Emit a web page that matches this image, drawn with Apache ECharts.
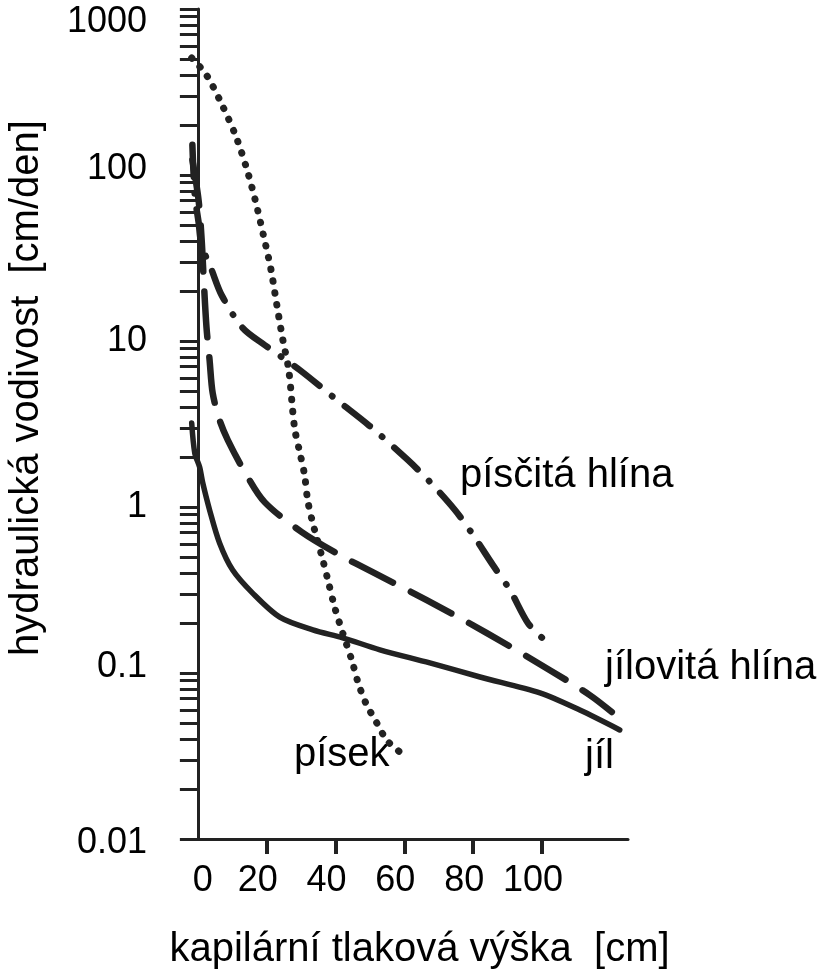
<!DOCTYPE html>
<html>
<head>
<meta charset="utf-8">
<script src="https://cdn.jsdelivr.net/npm/echarts@6/dist/echarts.min.js"></script>
<style>
  html, body { margin: 0; padding: 0; background: #fff; }
  #chart { width: 827px; height: 973px; }
</style>
</head>
<body>
<div id="chart"></div>
<script>
// tick values
const xTickValues = [20, 40, 60, 80, 100]
const xLabelValues = [0, 20, 40, 60, 80, 100]
const yDecades = [0.01, 0.1, 1, 10, 100, 1000]
const yMultipliers = [1, 2, 3, 4, 5, 6, 7, 8, 9]

// [kapilarni tlakova vyska cm, hydraulicka vodivost cm/den]
const pisek = [
  [-1.8, 507], [2.5, 400], [6.9, 268], [11.0, 172], [14.2, 109], [16.8, 68.8],
  [19.1, 42.9], [21.2, 27.2], [22.9, 16.7], [24.6, 10.4], [26.4, 6.69],
  [28.1, 2.99], [29.6, 2.14], [31.0, 1.56], [31.9, 1.10], [33.3, 0.813],
  [34.5, 0.659], [36.3, 0.480], [38.0, 0.348], [39.8, 0.247], [42.1, 0.174],
  [44.7, 0.120], [46.5, 0.0883], [48.8, 0.0659], [52.0, 0.050], [54.9, 0.0394],
  [58.7, 0.0334], [61.0, 0.0312]
]
const piscitaHlina = [
  [-1.6, 152], [-0.9, 75.8], [0.2, 52.1], [1.1, 37.9], [4.0, 26.8], [6.9, 18.9],
  [13.0, 12.0], [19.4, 9.46], [29.6, 6.69], [40.4, 4.41], [49.9, 3.08],
  [61.0, 1.92], [67.4, 1.42], [74.7, 0.96], [79.6, 0.697], [85.7, 0.448],
  [90.7, 0.316], [95.9, 0.200], [100.0, 0.163]
]
const jilovitaHlina = [
  [-1.6, 123], [0.2, 70.6], [1.1, 40.6], [1.7, 23.3], [2.5, 12.1], [3.4, 7.69],
  [4.3, 4.86], [6.3, 3.34], [8.7, 2.53], [13.6, 1.63], [19.4, 1.07],
  [30.2, 0.706], [41.2, 0.514], [50.8, 0.405], [66.5, 0.275], [84.0, 0.174],
  [102.3, 0.104], [113.9, 0.0736], [120.3, 0.0582]
]
const jil = [
  [-1.8, 3.21], [-0.9, 2.11], [0.5, 1.74], [1.4, 1.40], [3.4, 0.96], [6.3, 0.607],
  [10.1, 0.417], [15.9, 0.303], [23.8, 0.217], [33.4, 0.182], [42.1, 0.163],
  [52.9, 0.138], [67.4, 0.115], [82.0, 0.0946], [99.4, 0.0759], [111.0, 0.0598],
  [122.6, 0.0454]
]

const yTickValues = []
yDecades.slice(0, -1).forEach(d => yMultipliers.forEach(m => yTickValues.push(+(d * m).toPrecision(3))))
yTickValues.push(yDecades[yDecades.length - 1])

const ink = '#222'
const wordFont = '"Liberation Sans", Arial, sans-serif'

const chart = echarts.init(document.getElementById('chart'))

function curve(name, data, type, width) {
  return {
    name: name,
    type: 'line',
    data: data,
    symbol: 'none',
    smooth: 0.3,
    clip: false,
    lineStyle: { color: ink, width: width, type: type, cap: 'round', join: 'round' }
  }
}

chart.setOption({
  animation: false,
  backgroundColor: '#fff',
  grid: { left: 191, right: 199, top: 9, bottom: 134, containLabel: false, outerBoundsMode: 'none' },
  xAxis: {
    type: 'value',
    min: -2,
    max: 125,
    name: 'kapilární tlaková výška  [cm]',
    nameLocation: 'middle',
    nameGap: 91,
    nameTextStyle: { fontFamily: wordFont, fontSize: 40, color: '#000', padding: [0, 0, 0, 20] },
    axisLine: { lineStyle: { color: ink, width: 3 } },
    axisTick: { customValues: xTickValues, length: 15, inside: false, lineStyle: { color: ink, width: 4 } },
    axisLabel: {
      customValues: xLabelValues,
      margin: 24,
      fontFamily: wordFont,
      fontSize: 36,
      color: '#000',
      formatter: v => (v === 0 ? '{z|0}' : '{n|' + v + '}'),
      rich: {
        z: { fontFamily: wordFont, fontSize: 36, color: '#000', padding: [0, 0, 0, 10] },
        n: { fontFamily: wordFont, fontSize: 36, color: '#000', padding: [0, 18, 0, 0] }
      }
    },
    splitLine: { show: false }
  },
  yAxis: {
    type: 'log',
    logBase: 10,
    min: 0.01,
    max: 1000,
    name: 'hydraulická vodivost  [cm/den]',
    nameLocation: 'middle',
    nameGap: 144,
    nameTextStyle: { fontFamily: wordFont, fontSize: 40, color: '#000', padding: [0, 0, 0, 72] },
    axisLine: { lineStyle: { color: ink, width: 3 } },
    axisTick: { customValues: yTickValues, length: 18, inside: false, lineStyle: { color: ink, width: 3 } },
    axisLabel: {
      margin: 44,
      fontFamily: wordFont,
      fontSize: 36,
      color: '#000',
      formatter: v => {
        const s = String(+v.toPrecision(3))
        if (s === '1000') return '{dn|' + s + '}'
        if (s === '100' || s === '0.1') return '{up|' + s + '}'
        if (s === '0.01') return '{lo|' + s + '}'
        return '{n|' + s + '}'
      },
      rich: {
        dn: { fontFamily: wordFont, fontSize: 36, color: '#000', padding: [27, 0, 0, 0] },
        up: { fontFamily: wordFont, fontSize: 36, color: '#000', padding: [0, 0, 12, 0] },
        lo: { fontFamily: wordFont, fontSize: 36, color: '#000', padding: [8, 0, 0, 0] },
        n: { fontFamily: wordFont, fontSize: 36, color: '#000' }
      }
    },
    splitLine: { show: false }
  },
  graphic: [
    { type: 'text', x: 460, y: 476, style: { text: 'písčitá hlína', font: '40px ' + wordFont, fill: '#000', align: 'left', verticalAlign: 'middle' } },
    { type: 'text', x: 605, y: 668, style: { text: 'jílovitá hlína', font: '40px ' + wordFont, fill: '#000', align: 'left', verticalAlign: 'middle' } },
    { type: 'text', x: 585, y: 757, style: { text: 'jíl', font: '40px ' + wordFont, fill: '#000', align: 'left', verticalAlign: 'middle' } },
    { type: 'text', x: 294, y: 755, style: { text: 'písek', font: '40px ' + wordFont, fill: '#000', align: 'left', verticalAlign: 'middle' } }
  ],
  series: [
    curve('písek', pisek, [0.5, 11.5], 7),
    curve('písčitá hlína', piscitaHlina, [32, 16, 0.5, 16], 6.5),
    curve('jílovitá hlína', jilovitaHlina, [46, 20], 6.5),
    curve('jíl', jil, 'solid', 5.5)
  ]
})
</script>
</body>
</html>
